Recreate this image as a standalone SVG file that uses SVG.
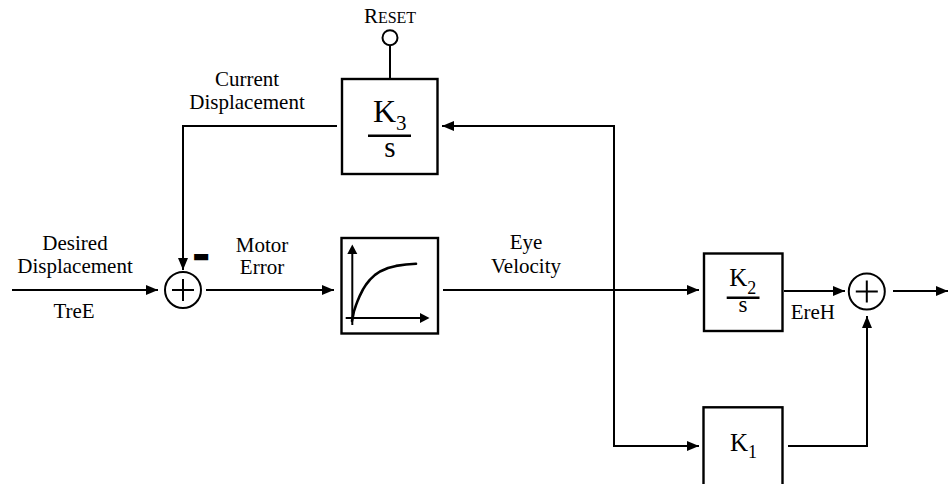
<svg xmlns="http://www.w3.org/2000/svg" width="949" height="484" viewBox="0 0 949 484">
<defs>
<marker id="arr" markerUnits="userSpaceOnUse" markerWidth="14" markerHeight="12" refX="12" refY="5" orient="auto">
<path d="M0,0 L12,5 L0,10 Z" fill="#000"/>
</marker>
<style>
.ln{fill:none;stroke:#000;stroke-width:2}
.bx{fill:#fff;stroke:#000;stroke-width:2.4}
.t{font-family:"Liberation Serif","Times New Roman",serif;font-size:21px;fill:#000}
.c{text-anchor:middle}
.k{font-family:"Liberation Serif","Times New Roman",serif;fill:#000}
</style>
</defs>
<rect width="949" height="484" fill="#fff"/>

<g id="connectors">
<path class="ln" d="M12,290 L158,290" marker-end="url(#arr)"/>
<path class="ln" d="M206,290 L334,290" marker-end="url(#arr)"/>
<path class="ln" d="M443,290 L699,290" marker-end="url(#arr)"/>
<path class="ln" d="M614,126 L442,126" marker-end="url(#arr)"/>
<path class="ln" d="M614,125 L614,446 L699,446" marker-end="url(#arr)"/>
<path class="ln" d="M337,126 L183,126 L183,270" marker-end="url(#arr)"/>
<path class="ln" d="M784,291 L845,291" marker-end="url(#arr)"/>
<path class="ln" d="M893,291 L948,291" marker-end="url(#arr)"/>
<path class="ln" d="M788,446 L867,446 L867,316" marker-end="url(#arr)"/>
<path class="ln" d="M390,45.5 L390,78"/>
</g>

<g id="reset">
<circle cx="390" cy="37.7" r="7.5" fill="#fff" stroke="#000" stroke-width="2"/>
<text class="k c" x="390" y="23.3"><tspan font-size="21">R</tspan><tspan font-size="16">ESET</tspan></text>
</g>

<g id="k3">
<rect class="bx" x="342" y="79" width="95.5" height="95"/>
<text class="k" x="373" y="121.7" font-size="32">K<tspan font-size="21" dy="8.3">3</tspan></text>
<line x1="368" y1="135.7" x2="411" y2="135.7" stroke="#000" stroke-width="2.5"/>
<text class="k c" x="390" y="156.7" font-size="29">s</text>
</g>

<g id="sum1">
<circle cx="183" cy="290" r="18" fill="#fff" stroke="#000" stroke-width="2"/>
<path class="ln" d="M172,290 L194,290 M183,279 L183,301"/>
<text x="201" y="264" font-family="Liberation Sans,Arial,sans-serif" font-size="20" font-weight="bold" text-anchor="middle" fill="#000" stroke="#000" stroke-width="4" stroke-linejoin="miter">−</text>
</g>

<g id="curve">
<rect class="bx" x="341.5" y="238" width="96.5" height="95.5"/>
<path class="ln" d="M352.3,325 L352.3,252" />
<path d="M347.3,254 L352.3,244.5 L357.3,254 Z" fill="#000"/>
<path class="ln" d="M345.7,318 L421,318"/>
<path d="M420,313 L429.5,318 L420,323 Z" fill="#000"/>
<polyline fill="none" stroke="#000" stroke-width="2.6" stroke-linejoin="round" stroke-linecap="round" points="352,321 354,311.1 356,305.1 358,299.9 360,295.3 363,289.4 366,284.6 370,279.6 375,274.9 380,271.5 388,268 396,265.9 406,264.5 416,263.8"/>
</g>

<g id="k2">
<rect class="bx" x="704" y="253.5" width="78.5" height="77.5"/>
<text class="k" x="729.3" y="285.7" font-size="25">K<tspan font-size="18" dy="8.3">2</tspan></text>
<line x1="726.7" y1="297.7" x2="759.5" y2="297.7" stroke="#000" stroke-width="2.5"/>
<text class="k c" x="743" y="311.7" font-size="23">s</text>
</g>

<g id="k1">
<rect class="bx" x="703.5" y="407.3" width="79" height="100"/>
<text class="k" x="730" y="451" font-size="25">K<tspan font-size="18" dy="7">1</tspan></text>
</g>

<g id="sum2">
<circle cx="866.8" cy="291.5" r="18" fill="#fff" stroke="#000" stroke-width="2"/>
<path class="ln" d="M855.8,291.5 L877.8,291.5 M866.8,280.5 L866.8,302.5"/>
</g>

<g id="labels">
<text class="t c" x="247" y="86">Current</text>
<text class="t c" x="247" y="109">Displacement</text>
<text class="t c" x="75" y="250">Desired</text>
<text class="t c" x="75" y="272.7">Displacement</text>
<text class="t c" x="74" y="318">TreE</text>
<text class="t c" x="262" y="252">Motor</text>
<text class="t c" x="262" y="274">Error</text>
<text class="t c" x="526" y="249">Eye</text>
<text class="t c" x="526" y="273">Velocity</text>
<text class="t" x="790.7" y="319">EreH</text>
</g>
</svg>
